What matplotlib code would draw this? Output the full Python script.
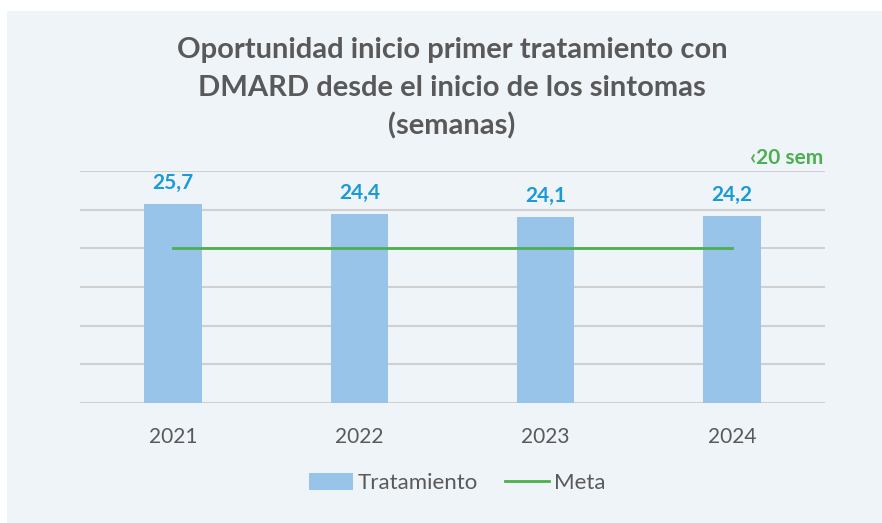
import matplotlib
matplotlib.use("Agg")
import matplotlib.pyplot as plt
import matplotlib.transforms as mtransforms
from matplotlib.patches import Rectangle
from matplotlib.lines import Line2D

years = ["2021", "2022", "2023", "2024"]
tratamiento = [25.7, 24.4, 24.1, 24.2]
meta = [20, 20, 20, 20]
labels = ["25,7", "24,4", "24,1", "24,2"]
title = "Oportunidad inicio primer tratamiento con\nDMARD desde el inicio de los sintomas\n(semanas)"
meta_label = "‹20 sem"

plt.rcParams['font.family'] = ['Lato', 'DejaVu Sans']

bg = "#eff4f9"
fig = plt.figure(figsize=(8.82, 5.23), dpi=100)
fig.patch.set_facecolor("white")
fig.patches.append(Rectangle((7/882, 0), 1 - 7/882, 1 - 11/523, transform=fig.transFigure,
                             facecolor=bg, edgecolor="none", zorder=-10))

ax = fig.add_axes([80/882, 1 - 403/523, 745/882, 232/523])
ax.set_facecolor("none")
x = list(range(len(years)))
ax.bar(x, tratamiento, width=0.31, color="#99c4ea", zorder=3, label="Tratamiento")
ax.plot(x, meta, color="#4caf50", lw=2, zorder=4, label="Meta")
for xi, v, lab in zip(x, tratamiento, labels):
    ax.annotate(lab, (xi, v), xytext=(0, 8), textcoords="offset points", ha="center", va="bottom",
                fontsize=15, fontweight="bold", color="#1a9bd7")
ax.set_xlim(-0.5, 3.5)
ax.set_ylim(0, 30)
ax.set_yticks([0, 5, 10, 15, 20, 25, 30])
ax.yaxis.grid(True, color="#d0d0d0", lw=1.5, zorder=0)
ax.tick_params(axis="y", left=False, labelleft=False)
ax.tick_params(axis="x", bottom=False, labelsize=15, labelcolor="#595959", pad=14)
ax.set_xticks(x)
ax.set_xticklabels(years)
for s in ax.spines.values():
    s.set_visible(False)

trans = mtransforms.blended_transform_factory(ax.transAxes, ax.transData)
ax.text(0.997, 30.4, meta_label, transform=trans,
        ha="right", va="bottom", fontsize=15, fontweight="bold", color="#4caf50")

fig.text(452/882, 1 - 37/523, title, ha="center", va="top", fontsize=21, fontweight="bold",
         color="#595959", linespacing=1.55)

handles = [Rectangle((0, 0), 1, 1, facecolor="#99c4ea", edgecolor="none"),
           Line2D([0], [0], color="#4caf50", lw=2)]
fig.legend(handles, ["Tratamiento", "Meta"], loc="center", bbox_to_anchor=(457/882, 1 - 483/523),
           ncol=2, frameon=False, fontsize=16, labelcolor="#595959", handlelength=2.0,
           handleheight=0.8, handletextpad=0.2, columnspacing=1.2)

fig.savefig("out.png", dpi=100, facecolor=fig.get_facecolor())
